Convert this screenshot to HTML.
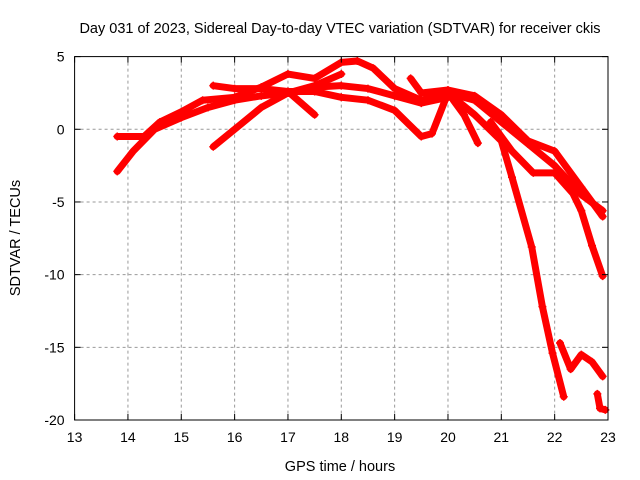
<!DOCTYPE html>
<html><head><meta charset="utf-8"><style>
body{margin:0;background:#fff;}
svg{display:block;font-family:"Liberation Sans",sans-serif;}
</style></head><body>
<svg id="chart" width="640" height="480">
<text x="340" y="33" font-size="14.5" text-anchor="middle">Day 031 of 2023, Sidereal Day-to-day VTEC variation (SDTVAR) for receiver ckis</text>
<text x="340" y="471" font-size="14.5" text-anchor="middle">GPS time / hours</text>
<text transform="translate(20,238) rotate(-90)" font-size="14.5" text-anchor="middle">SDTVAR / TECUs</text>
<g id="grid"></g><g id="series"></g><g id="axes"></g>
</svg>
<script>
const xTicks=[13,14,15,16,17,18,19,20,21,22,23];
const yTicks=[5,0,-5,-10,-15,-20];
const t1=[[13.8,-2.9],[14.1,-1.5],[14.5,0],[15,0.8],[15.5,1.5],[16,2],[16.5,2.3],[17,2.5],[17.5,2.9],[18,3.0],[18.5,2.8],[19,2.3],[19.5,1.8],[20,2.2],[20.2,2.5],[20.5,2.0]];
const t2=[[13.8,-0.5],[14.3,-0.5],[14.6,0.5],[15,1.2],[15.4,2.0],[16,2.2],[16.5,2.9],[17,3.8],[17.5,3.5],[18,4.6],[18.3,4.7],[18.6,4.2],[19,2.8],[19.5,2.0],[20,2.5],[20.5,2.0],[21,0.5],[21.5,-1],[22,-2.5],[22.5,-4.5],[22.9,-5.6]];
const t3=[[15.6,-1.2],[16,0],[16.5,1.5],[17,2.5],[17.5,3.0],[18,3.8]];
const t4=[[15.6,3.0],[16,2.8],[16.5,2.8],[17,2.6],[17.5,1.0]];
const t5=[[17,2.6],[17.5,2.6],[18,2.2],[18.5,2.0],[19,1.3],[19.5,-0.5],[19.7,-0.3],[20,2.5]];
const t6=[[19.3,3.5],[19.5,2.5],[20,2.7],[20.5,2.3],[21,1],[21.5,-0.8],[22,-1.5],[22.5,-4],[22.9,-6]];
const t7=[[20,2.5],[20.5,1],[21,-0.8],[21.2,-3.3],[21.57,-8.1],[21.77,-12.2],[21.96,-15.4],[22.17,-18.4]];
const t8=[[20.1,2.0],[20.3,1.0],[20.56,-0.95]];
const t9=[[20.8,0.5],[21.2,-1.5],[21.6,-3],[22,-3],[22.34,-4.4],[22.5,-5.6],[22.7,-8],[22.9,-10.1]];
const t10=[[22.1,-14.7],[22.3,-16.5],[22.5,-15.5],[22.7,-16],[22.9,-17]];
const t11=[[22.8,-18.2],[22.85,-19.2],[22.95,-19.3]];
const tracks=[t1,t2,t3,t4,t5,t6,t7,t8,t9,t10,t11];
const X0=74.6,X1=608,Y0=56.6,Y1=420;
const sx=v=>X0+(v-13)/(23-13)*(X1-X0);
const sy=v=>Y1-(v+20)/25*(Y1-Y0);
const NS='http://www.w3.org/2000/svg';
const mk=(t,a,p)=>{const e=document.createElementNS(NS,t);for(const k in a)e.setAttribute(k,a[k]);p.appendChild(e);return e;};
const grid=document.getElementById('grid'),axes=document.getElementById('axes'),ser=document.getElementById('series');
xTicks.forEach(v=>{
 if(v>13&&v<23){const l=mk('line',{x1:sx(v),x2:sx(v),y1:Y0,y2:Y1,stroke:'#999','stroke-dasharray':'3,3'},grid);
 
 }
 const t=mk('text',{x:sx(v),y:Y1+22,'font-size':14,'text-anchor':'middle'},axes);t.textContent=v;
 
 
 mk('line',{x1:sx(v),x2:sx(v),y1:Y1,y2:Y1-6,stroke:'#000'},axes);
 mk('line',{x1:sx(v),x2:sx(v),y1:Y0,y2:Y0+6,stroke:'#000'},axes);
});
yTicks.forEach(v=>{
 if(v>-20&&v<5){const l=mk('line',{x1:X0,x2:X1,y1:sy(v),y2:sy(v),stroke:'#999','stroke-dasharray':'3,3'},grid);
 
 }
 const t=mk('text',{x:X0-10,y:sy(v)+5,'font-size':14,'text-anchor':'end'},axes);t.textContent=v;
 
 
 mk('line',{x1:X0,x2:X0+6,y1:sy(v),y2:sy(v),stroke:'#000'},axes);
 mk('line',{x1:X1,x2:X1-6,y1:sy(v),y2:sy(v),stroke:'#000'},axes);
});
const fr=mk('rect',{x:X0,y:Y0,width:X1-X0,height:Y1-Y0,fill:'none',stroke:'#000'},axes);


tracks.forEach((tr,i)=>{
 const p=mk('polyline',{points:tr.map(d=>sx(d[0])+','+sy(d[1])).join(' '),fill:'none',stroke:'#f00','stroke-width':7,'stroke-linejoin':'round','stroke-linecap':'round'},ser);
 
 
 tr.forEach(d=>{const m=mk('path',{d:`M${sx(d[0])-4},${sy(d[1])}h8M${sx(d[0])},${sy(d[1])-4}v8`,stroke:'#f00','stroke-width':1.5},ser);
 
 });
});
</script>
</body></html>
